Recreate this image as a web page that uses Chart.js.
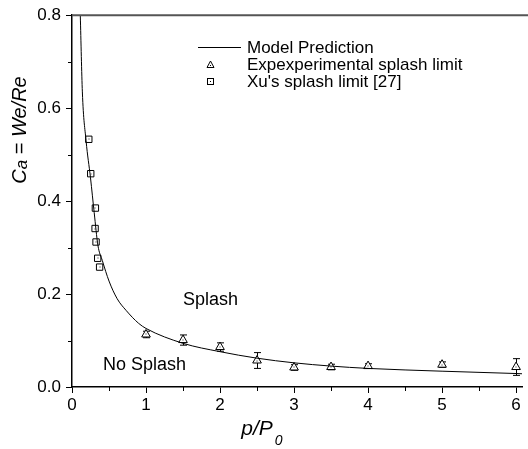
<!DOCTYPE html>
<html>
<head>
<meta charset="utf-8">
<script src="https://cdn.jsdelivr.net/npm/chart.js@4.4.0/dist/chart.umd.min.js"></script>
<style>
  html, body { margin: 0; padding: 0; background: #fff; }
  #wrap { width: 528px; height: 449px; }
</style>
</head>
<body>
<div id="wrap"><canvas id="chart"></canvas></div>
<script>
// model prediction curve
const modelX = [0.112, 0.14, 0.19, 0.25, 0.30, 0.35, 0.41, 0.50, 0.61, 0.73, 0.90, 1.0, 1.5, 2.0, 2.5, 3.0, 3.5, 4.0, 5.0, 6.0, 6.08];
const modelY = [0.80, 0.635, 0.53, 0.45, 0.375, 0.305, 0.272, 0.228, 0.19, 0.165, 0.137, 0.126, 0.094, 0.076, 0.062, 0.052, 0.045, 0.040, 0.034, 0.029, 0.0285];

// experimental splash limit with error bars
const expX = [1.0, 1.5, 2.0, 2.5, 3.0, 3.5, 4.0, 5.0, 6.0];
const expY = [0.113, 0.101, 0.086, 0.057, 0.042, 0.043, 0.045, 0.048, 0.043];
const expErr = [0.007, 0.011, 0.009, 0.017, 0.006, 0.006, 0.005, 0.006, 0.018];

// Xu's splash limit [27]
const xuX = [0.227, 0.253, 0.316, 0.312, 0.325, 0.347, 0.373];
const xuY = [0.533, 0.459, 0.385, 0.341, 0.312, 0.277, 0.258];

const xMajor = [0, 1, 2, 3, 4, 5, 6];
const yMajor = [0.0, 0.2, 0.4, 0.6, 0.8];

const FONT = "'Liberation Sans', Arial, sans-serif";

function zip(xs, ys) {
    return xs.map((x, i) => ({x: x, y: ys[i]}));
}
function isMajor(v, list) {
    return list.some(m => Math.abs(m - v) < 1e-6);
}

const extras = {
    id: 'extras',
    beforeDatasetsDraw(chart) {
        // error bars under the triangles
        const ctx = chart.ctx;
        const xs = chart.scales.x, ys = chart.scales.y;
        ctx.save();
        ctx.strokeStyle = '#000';
        ctx.lineWidth = 1;
        expX.forEach((x, i) => {
            const px = Math.round(xs.getPixelForValue(x)) + 0.5;
            const top = ys.getPixelForValue(expY[i] + expErr[i]);
            const bot = ys.getPixelForValue(expY[i] - expErr[i]);
            ctx.beginPath();
            ctx.moveTo(px, top); ctx.lineTo(px, bot);
            ctx.moveTo(px - 3.5, top); ctx.lineTo(px + 3.5, top);
            ctx.moveTo(px - 3.5, bot); ctx.lineTo(px + 3.5, bot);
            ctx.stroke();
        });
        ctx.restore();
    },
    afterDatasetsDraw(chart) {
        // tiny dot in the middle of each marker
        const ctx = chart.ctx;
        ctx.save();
        ctx.fillStyle = '#222';
        [1, 2].forEach(d => {
            chart.getDatasetMeta(d).data.forEach(pt => {
                ctx.fillRect(Math.round(pt.x) - 0.5, Math.round(pt.y) - 0.5, 1, 1);
            });
        });
        ctx.restore();
    },
    afterDraw(chart) {
        const ctx = chart.ctx;
        const a = chart.chartArea;
        const xs = chart.scales.x, ys = chart.scales.y;
        ctx.save();

        // top frame line
        ctx.strokeStyle = '#555';
        ctx.lineWidth = 2;
        ctx.beginPath();
        ctx.moveTo(a.left, a.top); ctx.lineTo(chart.width, a.top);
        ctx.stroke();

        // minor ticks
        ctx.strokeStyle = '#000';
        ctx.lineWidth = 1;
        ctx.beginPath();
        for (let v = 0.5; v < 6.08; v += 1) {
            const px = Math.round(xs.getPixelForValue(v)) + 0.5;
            ctx.moveTo(px, a.bottom); ctx.lineTo(px, a.bottom + 4);
        }
        for (let v = 0.1; v < 0.8; v += 0.2) {
            const py = Math.round(ys.getPixelForValue(v)) + 0.5;
            ctx.moveTo(a.left, py); ctx.lineTo(a.left - 4, py);
        }
        ctx.stroke();

        // legend
        ctx.fillStyle = '#000';
        ctx.font = '17px ' + FONT;
        ctx.textBaseline = 'middle';
        ctx.textAlign = 'left';
        ctx.beginPath();
        ctx.moveTo(198, 47.5); ctx.lineTo(241, 47.5);
        ctx.stroke();
        ctx.fillText('Model Prediction', 247, 48);
        ctx.fillText('Expexperimental splash limit', 247, 65);
        ctx.fillText("Xu's splash limit [27]", 247, 82);
        ctx.beginPath();
        ctx.moveTo(210.5, 61); ctx.lineTo(214, 67.5); ctx.lineTo(207, 67.5); ctx.closePath();
        ctx.stroke();
        ctx.strokeRect(207.5, 78.5, 6, 6);
        ctx.fillRect(210, 81, 1, 1);
        ctx.fillRect(210, 65, 1, 1);

        // region labels
        ctx.font = '18px ' + FONT;
        ctx.fillText('Splash', 183, 300);
        ctx.fillText('No Splash', 103, 365);

        // x title p/P0
        ctx.textBaseline = 'alphabetic';
        ctx.font = 'italic 21px ' + FONT;
        let w = ctx.measureText('p/P').width;
        ctx.font = 'italic 14px ' + FONT;
        let w2 = ctx.measureText('0').width;
        let sx = 262 - (w + w2 + 2) / 2;
        ctx.font = 'italic 21px ' + FONT;
        ctx.fillText('p/P', sx, 435);
        ctx.font = 'italic 14px ' + FONT;
        ctx.fillText('0', sx + w + 2, 445);

        // y title Ca = We/Re
        ctx.translate(26, 130);
        ctx.rotate(-Math.PI / 2);
        const parts = [
            ['C', 'italic 20px ', 0],
            ['a', 'italic 17px ', 1],
            [' = ', '20px ', 0],
            ['We/Re', 'italic 20px ', 0]
        ];
        let total = 0;
        parts.forEach(p => { ctx.font = p[1] + FONT; total += ctx.measureText(p[0]).width; });
        let cx = -total / 2;
        parts.forEach(p => {
            ctx.font = p[1] + FONT;
            ctx.fillText(p[0], cx, p[2]);
            cx += ctx.measureText(p[0]).width;
        });
        ctx.restore();
    }
};

new Chart(document.getElementById('chart'), {
    type: 'scatter',
    data: {
        datasets: [
            {
                type: 'line',
                label: 'Model Prediction',
                data: zip(modelX, modelY),
                borderColor: '#000',
                borderWidth: 1,
                pointRadius: 0,
                fill: false,
                cubicInterpolationMode: 'monotone'
            },
            {
                label: 'Expexperimental splash limit',
                data: zip(expX, expY),
                pointStyle: 'triangle',
                pointRadius: 5,
                borderColor: '#000',
                borderWidth: 1,
                backgroundColor: '#fff'
            },
            {
                label: "Xu's splash limit [27]",
                data: zip(xuX, xuY),
                pointStyle: 'rect',
                pointRadius: 4.5,
                borderColor: '#000',
                borderWidth: 1,
                backgroundColor: '#fff'
            }
        ]
    },
    options: {
        responsive: true,
        maintainAspectRatio: false,
        animation: false,
        layout: {padding: {top: 15, right: 0, left: 0, bottom: 0}},
        plugins: {
            legend: {display: false},
            tooltip: {enabled: false}
        },
        scales: {
            x: {
                type: 'linear',
                min: 0,
                max: 6.08,
                afterFit: s => { s.height = 62; },
                border: {color: '#000', width: 1.5},
                grid: {drawOnChartArea: false, tickLength: 6, tickColor: '#000'},
                ticks: {
                    includeBounds: false,
                    stepSize: 1,
                    padding: 2,
                    color: '#000',
                    font: {family: FONT, size: 17},
                    maxRotation: 0,
                    callback: v => isMajor(v, xMajor) ? String(v) : ''
                }
            },
            y: {
                min: 0,
                max: 0.8,
                afterFit: s => { s.width = 72; },
                border: {color: '#000', width: 1.5},
                grid: {drawOnChartArea: false, tickLength: 6, tickColor: '#000'},
                ticks: {
                    stepSize: 0.2,
                    padding: 5,
                    color: '#000',
                    font: {family: FONT, size: 17},
                    callback: v => isMajor(v, yMajor) ? v.toFixed(1) : ''
                }
            }
        }
    },
    plugins: [extras]
});
</script>
</body>
</html>
